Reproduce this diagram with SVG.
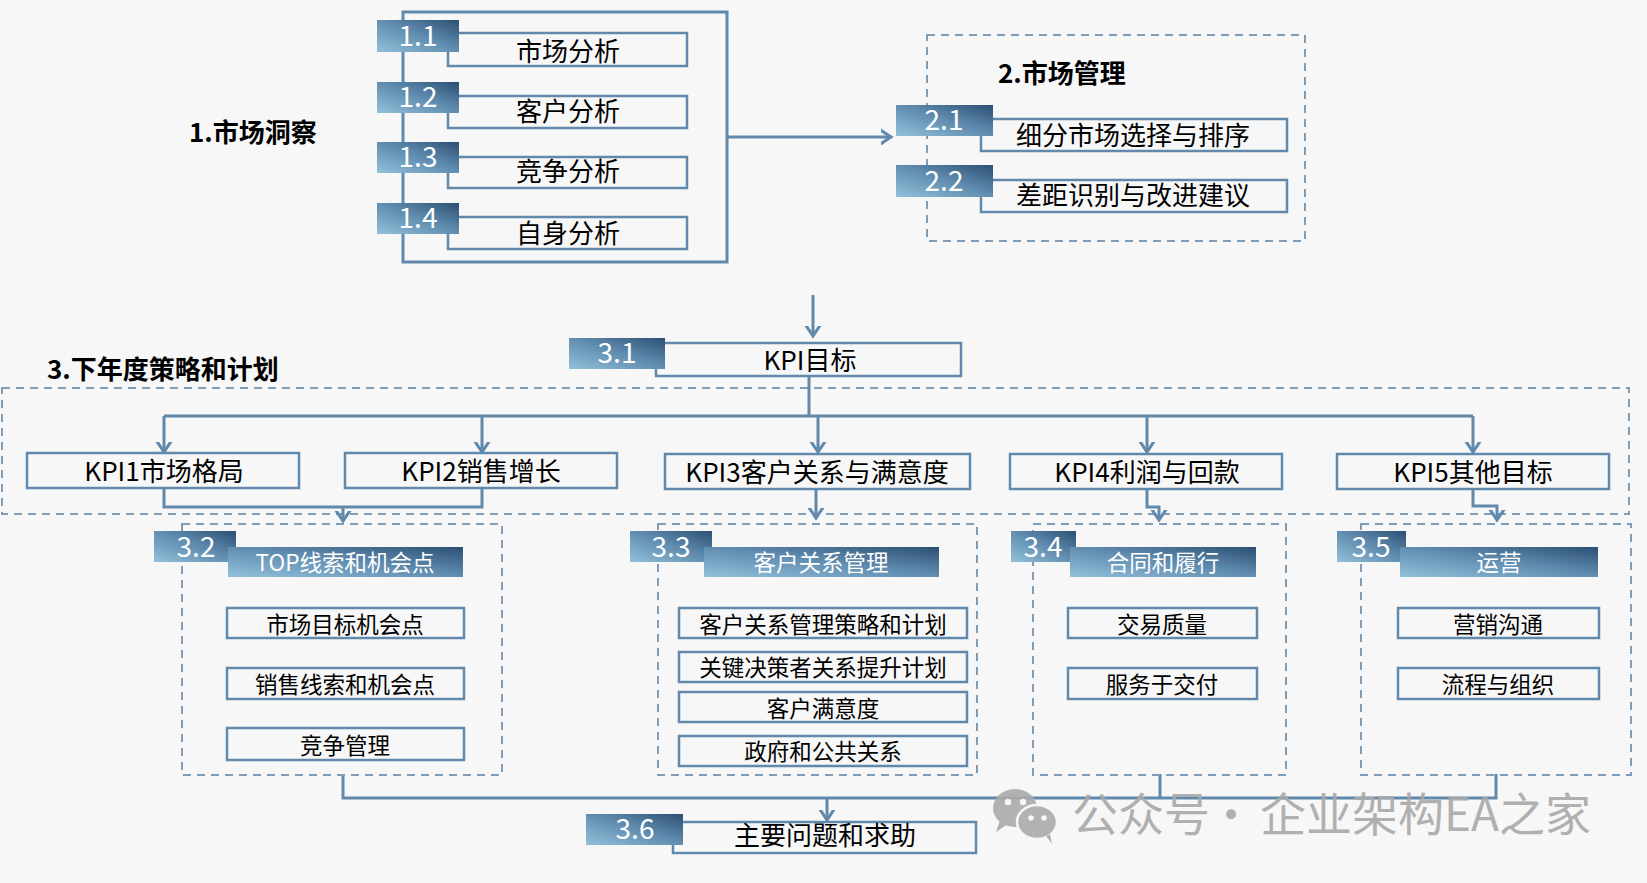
<svg xmlns="http://www.w3.org/2000/svg" width="1647" height="883" viewBox="0 0 1647 883">
<defs>
<linearGradient id="badge" x1="0" y1="1" x2="1" y2="0">
<stop offset="0" stop-color="#93c1da"/>
<stop offset="0.55" stop-color="#5d89ad"/>
<stop offset="1" stop-color="#2c4f72"/>
</linearGradient>
<marker id="arr" markerWidth="20" markerHeight="20" viewBox="-10 -10 20 20" refX="0" refY="0" orient="auto" markerUnits="userSpaceOnUse">
<path d="M-12,-8 L0,0 L-12,8" fill="none" stroke="#6189ab" stroke-width="3"/>
</marker>
</defs>
<style>
.bg{fill:#f7f7f7}
.box{fill:#f7f7f7;stroke:#6189ab;stroke-width:2.5}
.frame{fill:none;stroke:#6189ab;stroke-width:3}
.dash{fill:none;stroke:#7d9db9;stroke-width:2;stroke-dasharray:8 6}
.badge{fill:url(#badge)}
.ln{fill:none;stroke:#6189ab;stroke-width:3}
.t{font-family:"Noto Sans CJK SC","Noto Sans",sans-serif;fill:#000;text-anchor:middle;dominant-baseline:central;transform:translate(0px,-2.5px)}
.k{font-size:26px}
.s{font-size:22.5px}
.w{fill:#fff}
.n{font-size:28px;fill:#fff}
.h{font-family:"Noto Sans CJK SC","Noto Sans",sans-serif;font-weight:bold;font-size:26px;fill:#000;dominant-baseline:central;transform:translate(0px,-2.5px)}
.wm{font-family:"Noto Sans CJK SC","Noto Sans",sans-serif;font-size:46px;fill:#a9a9a9}
</style>
<rect class="bg" x="0" y="0" width="1647" height="883"/>

<!-- frames -->
<g id="frame1"><rect class="frame" x="403" y="12" width="324" height="250"/></g>
<g id="frame2"><rect class="dash" x="927" y="35" width="378" height="206"/></g>
<g id="frame3"><rect class="dash" x="2" y="388" width="1627" height="126"/></g>

<g id="title1"><text class="h" x="189" y="133">1.市场洞察</text></g>
<g id="title2"><text class="h" x="998" y="74">2.市场管理</text></g>
<g id="title3"><text class="h" x="47" y="370">3.下年度策略和计划</text></g>

<!-- connectors -->
<g id="connectors">
<path class="ln" d="M727,137 H891" marker-end="url(#arr)"/>
<path class="ln" d="M813,295 V336" marker-end="url(#arr)"/>
<path class="ln" d="M809,376 V416"/>
<path class="ln" d="M164,416 H1473"/>
<path class="ln" d="M164,416 V452" marker-end="url(#arr)"/>
<path class="ln" d="M482,416 V452" marker-end="url(#arr)"/>
<path class="ln" d="M818,416 V452" marker-end="url(#arr)"/>
<path class="ln" d="M1147,416 V452" marker-end="url(#arr)"/>
<path class="ln" d="M1473,416 V452" marker-end="url(#arr)"/>
<path class="ln" d="M164,489 V507 H482 V489"/>
<path class="ln" d="M343,507 V521" marker-end="url(#arr)"/>
<path class="ln" d="M816,489 V518" marker-end="url(#arr)"/>
<path class="ln" d="M1147,489 V507 H1159 V520" marker-end="url(#arr)"/>
<path class="ln" d="M1473,489 V506 H1497 V520" marker-end="url(#arr)"/>
<path class="ln" d="M343,775 V798 H1496 V774"/>
<path class="ln" d="M1160,774 V798"/>
<path class="ln" d="M827,798 V820" marker-end="url(#arr)"/>
</g>

<!-- section 1 items -->
<g id="n1-1"><rect class="box" x="448" y="33" width="239" height="33"/><rect class="badge" x="377" y="20" width="82" height="32"/><text class="t n" x="418" y="36">1.1</text><text class="t k" x="568" y="52">市场分析</text></g>
<g id="n1-2"><rect class="box" x="448" y="96" width="239" height="32"/><rect class="badge" x="377" y="82" width="82" height="31"/><text class="t n" x="418" y="97">1.2</text><text class="t k" x="568" y="112">客户分析</text></g>
<g id="n1-3"><rect class="box" x="448" y="157" width="239" height="31"/><rect class="badge" x="377" y="142" width="82" height="31"/><text class="t n" x="418" y="157">1.3</text><text class="t k" x="568" y="172">竞争分析</text></g>
<g id="n1-4"><rect class="box" x="448" y="217" width="239" height="32"/><rect class="badge" x="377" y="203" width="82" height="31"/><text class="t n" x="418" y="218">1.4</text><text class="t k" x="568" y="234">自身分析</text></g>

<!-- section 2 items -->
<g id="n2-1"><rect class="box" x="981" y="119" width="306" height="32"/><rect class="badge" x="896" y="105" width="97" height="31"/><text class="t n" x="944" y="120">2.1</text><text class="t k" x="1133" y="136">细分市场选择与排序</text></g>
<g id="n2-2"><rect class="box" x="981" y="180" width="306" height="32"/><rect class="badge" x="896" y="165" width="97" height="32"/><text class="t n" x="944" y="181">2.2</text><text class="t k" x="1133" y="196">差距识别与改进建议</text></g>

<!-- 3.1 -->
<g id="n3-1"><rect class="box" x="656" y="343" width="305" height="33"/><rect class="badge" x="569" y="338" width="96" height="31"/><text class="t n" x="617" y="353">3.1</text><text class="t k" x="810" y="361">KPI目标</text></g>

<!-- KPIs -->
<g id="kpi1"><rect class="box" x="27" y="453" width="272" height="35"/><text class="t k" x="164" y="472">KPI1市场格局</text></g>
<g id="kpi2"><rect class="box" x="345" y="453" width="272" height="35"/><text class="t k" x="481" y="472">KPI2销售增长</text></g>
<g id="kpi3"><rect class="box" x="665" y="454" width="305" height="35"/><text class="t k" x="817" y="473">KPI3客户关系与满意度</text></g>
<g id="kpi4"><rect class="box" x="1010" y="454" width="272" height="35"/><text class="t k" x="1147" y="473">KPI4利润与回款</text></g>
<g id="kpi5"><rect class="box" x="1337" y="454" width="272" height="35"/><text class="t k" x="1473" y="473">KPI5其他目标</text></g>

<!-- 3.2 -->
<g id="n3-2">
<rect class="dash" x="182" y="524" width="320" height="251"/>
<rect class="badge" x="154" y="531" width="82" height="31"/><text class="t n" x="196" y="547">3.2</text>
<rect class="badge" x="228" y="547" width="235" height="30"/><text class="t s w" x="345" y="563">TOP线索和机会点</text>
<rect class="box" x="227" y="608" width="237" height="30"/><text class="t s" x="345" y="625">市场目标机会点</text>
<rect class="box" x="227" y="668" width="237" height="31"/><text class="t s" x="345" y="685">销售线索和机会点</text>
<rect class="box" x="227" y="728" width="237" height="32"/><text class="t s" x="345" y="746">竞争管理</text>
</g>

<!-- 3.3 -->
<g id="n3-3">
<rect class="dash" x="658" y="524" width="319" height="251"/>
<rect class="badge" x="630" y="531" width="82" height="31"/><text class="t n" x="671" y="547">3.3</text>
<rect class="badge" x="704" y="547" width="235" height="30"/><text class="t s w" x="821" y="563">客户关系管理</text>
<rect class="box" x="679" y="608" width="288" height="30"/><text class="t s" x="823" y="625">客户关系管理策略和计划</text>
<rect class="box" x="679" y="652" width="288" height="30"/><text class="t s" x="823" y="668">关键决策者关系提升计划</text>
<rect class="box" x="679" y="692" width="288" height="30"/><text class="t s" x="823" y="709">客户满意度</text>
<rect class="box" x="679" y="736" width="288" height="30"/><text class="t s" x="823" y="752">政府和公共关系</text>
</g>

<!-- 3.4 -->
<g id="n3-4">
<rect class="dash" x="1033" y="524" width="253" height="251"/>
<rect class="badge" x="1011" y="531" width="65" height="31"/><text class="t n" x="1043" y="547">3.4</text>
<rect class="badge" x="1070" y="547" width="186" height="30"/><text class="t s w" x="1163" y="563">合同和履行</text>
<rect class="box" x="1068" y="608" width="189" height="30"/><text class="t s" x="1162" y="625">交易质量</text>
<rect class="box" x="1068" y="668" width="189" height="31"/><text class="t s" x="1162" y="685">服务于交付</text>
</g>

<!-- 3.5 -->
<g id="n3-5">
<rect class="dash" x="1361" y="524" width="270" height="251"/>
<rect class="badge" x="1337" y="531" width="69" height="31"/><text class="t n" x="1371" y="547">3.5</text>
<rect class="badge" x="1400" y="547" width="198" height="30"/><text class="t s w" x="1499" y="563">运营</text>
<rect class="box" x="1398" y="608" width="201" height="30"/><text class="t s" x="1498" y="625">营销沟通</text>
<rect class="box" x="1398" y="668" width="201" height="31"/><text class="t s" x="1498" y="685">流程与组织</text>
</g>

<!-- 3.6 -->
<g id="n3-6"><rect class="box" x="673" y="822" width="303" height="31"/><rect class="badge" x="586" y="814" width="97" height="31"/><text class="t n" x="635" y="829">3.6</text><text class="t k" x="825" y="836">主要问题和求助</text></g>

<!-- watermark -->
<g id="watermark" opacity="0.9">
<ellipse cx="1015" cy="808" rx="22" ry="19" fill="#ababab"/>
<path d="M1000,820 L996,832 L1008,824 Z" fill="#ababab"/>
<ellipse cx="1037" cy="822" rx="20" ry="17" fill="#ababab" stroke="#f7f7f7" stroke-width="2.5"/>
<path d="M1046,836 L1052,844 L1050,834 Z" fill="#ababab"/>
<circle cx="1008" cy="802" r="3.2" fill="#f7f7f7"/><circle cx="1023" cy="802" r="3.2" fill="#f7f7f7"/>
<circle cx="1031" cy="818" r="2.8" fill="#f7f7f7"/><circle cx="1044" cy="818" r="2.8" fill="#f7f7f7"/>
<text class="wm" x="1072" y="831">公众号</text>
<text class="wm" x="1231" y="831" text-anchor="middle">·</text>
<text class="wm" x="1260" y="831">企业架构EA之家</text>
</g>
</svg>
